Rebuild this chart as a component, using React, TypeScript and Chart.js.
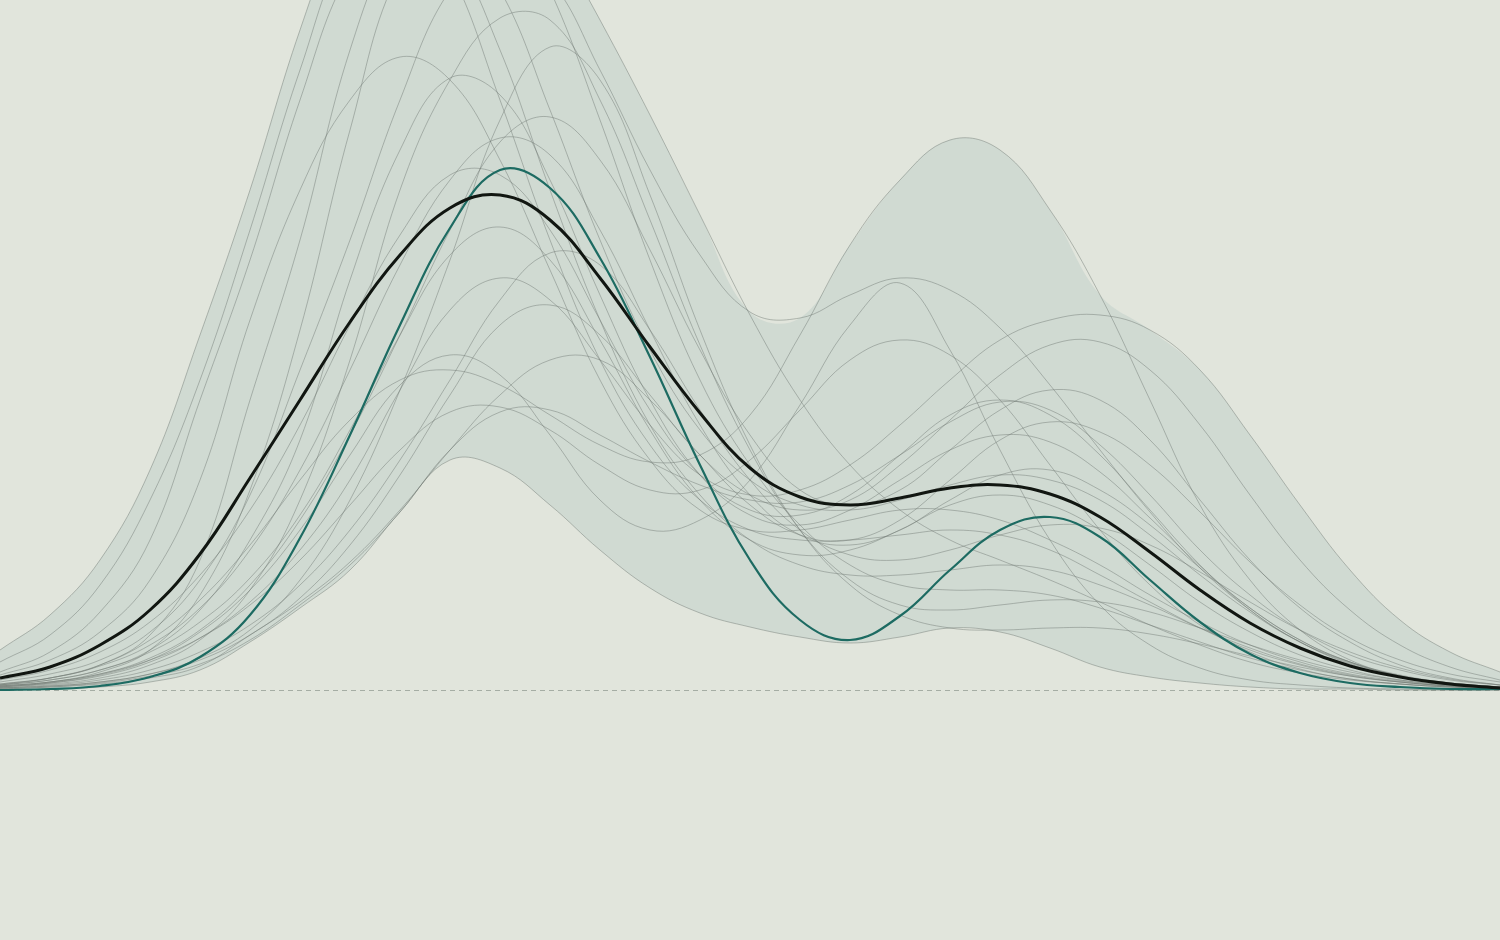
import React, { useEffect, useRef } from "react";
import { Chart, registerables } from "chart.js";

Chart.register(...registerables);

// x positions (sample grid)
const X = [0, 50, 100, 150, 200, 250, 300, 350, 400, 450, 500, 550, 600, 650, 700, 750, 800, 850, 900, 950, 1000, 1050, 1100, 1150, 1200, 1250, 1300, 1350, 1400, 1450, 1500];

// ensemble mean (black) and highlighted member (teal)
const meanLine = [12, 23, 45, 80, 136, 212, 290, 368, 435, 482, 495, 470, 412, 343, 277, 222, 193, 185, 192, 202, 205, 196, 173, 138, 100, 67, 42, 24, 13, 6, 2];
const tealLine = [0, 1, 4, 13, 33, 75, 152, 255, 365, 462, 520, 502, 432, 333, 225, 130, 70, 50, 74, 120, 160, 173, 153, 110, 68, 36, 17, 7, 3, 1, 1];

// ensemble members
const m01 = [40, 75, 130, 220, 355, 500, 660, 790, 870, 890, 850, 760, 670, 575, 475, 375, 290, 225, 180, 150, 130, 110, 88, 65, 45, 28, 17, 10, 6, 3, 2];
const m02 = [28, 55, 105, 190, 310, 460, 620, 750, 790, 720, 590, 450, 330, 245, 190, 160, 150, 150, 155, 160, 155, 140, 115, 88, 62, 40, 25, 14, 8, 4, 2];
const m03 = [18, 38, 78, 150, 290, 430, 590, 720, 770, 740, 640, 500, 370, 265, 195, 150, 125, 115, 115, 120, 125, 120, 105, 85, 62, 42, 26, 15, 8, 4, 2];
const m04 = [15, 30, 58, 110, 210, 370, 500, 590, 633, 610, 530, 420, 310, 230, 180, 160, 160, 170, 180, 180, 170, 150, 125, 95, 68, 45, 28, 16, 9, 4, 2];
const m05 = [6, 12, 25, 55, 130, 290, 450, 640, 760, 810, 790, 700, 570, 430, 310, 225, 165, 125, 105, 100, 100, 95, 82, 65, 48, 32, 20, 11, 6, 3, 1];
const m06 = [4, 8, 18, 40, 95, 200, 360, 560, 720, 760, 700, 580, 450, 340, 260, 210, 185, 180, 190, 205, 215, 210, 190, 155, 115, 78, 48, 28, 15, 7, 3];
const m07 = [8, 16, 30, 58, 110, 195, 320, 450, 590, 700, 740, 710, 620, 520, 435, 378, 372, 395, 412, 400, 362, 305, 240, 178, 122, 80, 48, 26, 13, 6, 3];
const m08 = [5, 10, 20, 40, 80, 150, 250, 410, 540, 612, 595, 510, 395, 290, 215, 175, 165, 180, 210, 240, 255, 248, 218, 172, 124, 82, 50, 28, 14, 7, 3];
const m09 = [3, 6, 12, 25, 50, 100, 190, 330, 500, 610, 672, 670, 590, 470, 345, 240, 160, 110, 85, 80, 85, 90, 88, 78, 62, 45, 30, 18, 10, 5, 2];
const m10 = [2, 4, 8, 16, 32, 60, 110, 190, 300, 430, 570, 643, 610, 495, 360, 245, 160, 105, 75, 62, 60, 62, 62, 56, 46, 34, 23, 14, 8, 4, 2];
const m11 = [4, 8, 16, 32, 60, 105, 170, 255, 355, 460, 548, 573, 530, 440, 340, 255, 200, 185, 200, 240, 280, 300, 290, 250, 190, 130, 82, 48, 25, 12, 5];
const m12 = [6, 12, 24, 45, 82, 140, 220, 320, 425, 510, 552, 535, 460, 360, 265, 195, 155, 145, 160, 190, 215, 220, 200, 165, 122, 82, 50, 28, 14, 7, 3];
const m13 = [10, 20, 38, 68, 115, 180, 265, 365, 455, 515, 515, 460, 370, 280, 215, 180, 175, 195, 235, 275, 290, 275, 235, 180, 125, 80, 48, 27, 14, 7, 3];
const m14 = [5, 10, 20, 38, 68, 112, 175, 260, 355, 435, 463, 430, 350, 260, 190, 150, 135, 140, 160, 185, 195, 185, 160, 125, 88, 58, 35, 20, 10, 5, 2];
const m15 = [2, 5, 10, 20, 38, 65, 105, 160, 230, 310, 390, 437, 425, 360, 280, 210, 160, 135, 130, 140, 155, 165, 162, 145, 118, 88, 60, 38, 22, 11, 5];
const m16 = [3, 7, 14, 28, 52, 88, 140, 210, 300, 380, 412, 390, 330, 265, 215, 195, 200, 225, 265, 310, 350, 370, 375, 360, 320, 255, 185, 120, 70, 38, 18];
const m17 = [2, 4, 8, 16, 30, 55, 92, 145, 215, 295, 365, 385, 355, 295, 235, 195, 180, 190, 225, 270, 315, 345, 348, 320, 265, 195, 130, 80, 45, 23, 10];
const m18 = [1, 3, 6, 12, 24, 55, 88, 128, 180, 240, 295, 330, 330, 290, 235, 185, 155, 150, 170, 210, 250, 268, 258, 225, 178, 128, 85, 52, 30, 16, 8];
const m19 = [4, 8, 16, 30, 52, 85, 130, 185, 240, 278, 283, 260, 225, 200, 200, 230, 280, 330, 350, 335, 290, 225, 160, 105, 65, 38, 21, 11, 6, 3, 1];
const m20 = [1, 3, 7, 14, 26, 50, 85, 125, 178, 240, 278, 280, 255, 228, 205, 190, 188, 205, 235, 268, 288, 280, 245, 195, 140, 95, 60, 35, 20, 10, 5];
const m21 = [0, 1, 3, 8, 20, 48, 82, 120, 178, 230, 222, 185, 140, 102, 77, 63, 53, 47, 53, 62, 58, 42, 23, 13, 7, 3, 1, 1, 0, 0, 0];
const m22 = [5, 12, 25, 50, 90, 145, 210, 270, 310, 320, 305, 275, 245, 228, 235, 275, 355, 445, 510, 550, 540, 480, 395, 290, 185, 110, 60, 30, 14, 6, 2];
const m23 = [3, 7, 15, 30, 58, 100, 160, 235, 305, 335, 315, 255, 190, 160, 170, 210, 285, 365, 407, 340, 240, 150, 85, 45, 22, 10, 5, 2, 1, 0, 0];

const members = [m01, m02, m03, m04, m05, m06, m07, m08, m09, m10, m11, m12, m13, m14, m15, m16, m17, m18, m19, m20, m21, m22, m23];

const BG = "#e1e5dc";

export default function App() {
  const ref = useRef<HTMLCanvasElement | null>(null);

  useEffect(() => {
    document.body.style.margin = "0";
    document.body.style.background = BG;
    const canvas = ref.current;
    if (!canvas) return;

    const upper = X.map((_, i) => Math.max(...members.map((m) => m[i])));
    const lower = X.map((_, i) => Math.min(...members.map((m) => m[i])));

    const baselinePlugin = {
      id: "baseline",
      beforeDatasetsDraw(chart: any) {
        const { ctx, chartArea, scales } = chart;
        const y = Math.round(scales.y.getPixelForValue(0)) + 0.5;
        ctx.save();
        ctx.strokeStyle = "rgba(140,150,140,0.7)";
        ctx.lineWidth = 1;
        ctx.setLineDash([5, 4]);
        ctx.beginPath();
        ctx.moveTo(chartArea.left, y);
        ctx.lineTo(chartArea.right, y);
        ctx.stroke();
        ctx.restore();
      },
    };

    const memberSets = members.map((m, k) => ({
      label: "member " + (k + 1),
      data: m,
      borderColor: "rgba(112,120,114,0.46)",
      borderWidth: 1,
      pointRadius: 0,
      fill: false,
      tension: 0.4,
      order: 5,
    }));

    const chart = new Chart(canvas, {
      type: "line",
      data: {
        labels: X,
        datasets: [
          {
            label: "upper",
            data: upper,
            borderWidth: 0,
            borderColor: "rgba(0,0,0,0)",
            pointRadius: 0,
            fill: false,
            tension: 0.4,
            order: 10,
          },
          {
            label: "lower",
            data: lower,
            borderWidth: 0,
            borderColor: "rgba(0,0,0,0)",
            backgroundColor: "rgba(170,192,190,0.30)",
            pointRadius: 0,
            fill: "-1",
            tension: 0.4,
            order: 9,
          },
          ...memberSets,
          {
            label: "teal",
            data: tealLine,
            borderColor: "#1d6b62",
            borderWidth: 2.2,
            pointRadius: 0,
            fill: false,
            tension: 0.4,
            order: 2,
          },
          {
            label: "mean",
            data: meanLine,
            borderColor: "#111611",
            borderWidth: 3,
            pointRadius: 0,
            fill: false,
            tension: 0.4,
            order: 1,
          },
        ],
      },
      options: {
        animation: false,
        responsive: true,
        maintainAspectRatio: false,
        layout: { padding: 0 },
        plugins: {
          legend: { display: false },
          tooltip: { enabled: false },
        },
        scales: {
          x: { type: "category", display: false, offset: false },
          y: { display: false, min: -250, max: 690 },
        },
      },
      plugins: [baselinePlugin],
    });

    return () => chart.destroy();
  }, []);

  return (
    <div style={{ width: 1500, height: 940, position: "relative", background: BG }}>
      <canvas ref={ref} />
    </div>
  );
}
